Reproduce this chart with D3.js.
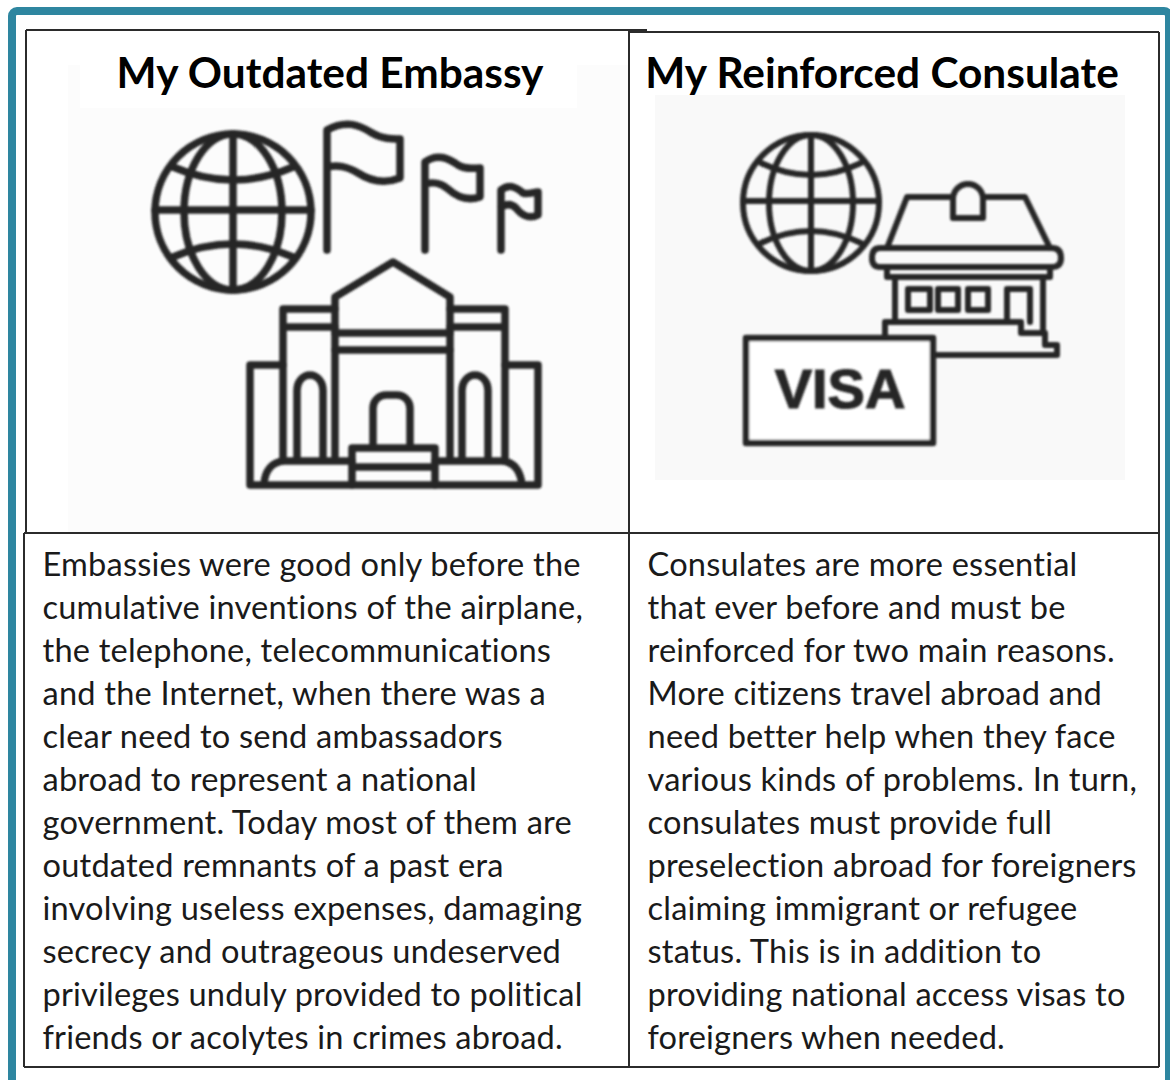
<!DOCTYPE html>
<html><head><meta charset="utf-8">
<script src="https://cdn.jsdelivr.net/npm/d3@7"></script>
<style>html,body{margin:0;padding:0;background:#fff;overflow:hidden}svg{display:block}
text{font-family:Lato,Carlito,sans-serif}</style></head><body><div id="c"></div>
<script>
const titles = ["My Outdated Embassy", "My Reinforced Consulate"];
const leftLines = ["Embassies were good only before the","cumulative inventions of the airplane,","the telephone, telecommunications","and the Internet, when there was a","clear need to send ambassadors","abroad to represent a national","government. Today most of them are","outdated remnants of a past era","involving useless expenses, damaging","secrecy and outrageous undeserved","privileges unduly provided to political","friends or acolytes in crimes abroad."];
const rightLines = ["Consulates are more essential","that ever before and must be","reinforced for two main reasons.","More citizens travel abroad and","need better help when they face","various kinds of problems. In turn,","consulates must provide full","preselection abroad for foreigners","claiming immigrant or refugee","status. This is in addition to","providing national access visas to","foreigners when needed."];
const W=1170,H=1080, ink="#262626", rule="#2b2b2b", teal="#2e86a0";
const svg=d3.select("#c").append("svg").attr("width",W).attr("height",H);
const defs=svg.append("defs");
defs.append("filter").attr("id","soft").append("feGaussianBlur").attr("stdDeviation",0.8);

// frame
svg.append("rect").attr("x",12).attr("y",11).attr("width",1157).attr("height",1300).attr("rx",5)
  .attr("fill","#fff").attr("stroke",teal).attr("stroke-width",8);

// picture backgrounds
const bg=[[68,65,560,467,"#fcfcfc"],[80,30,497,78,"#fff"],[655,95,470,385,"#f9f9f9"]];
svg.selectAll("rect.bg").data(bg).join("rect").attr("class","bg")
  .attr("x",d=>d[0]).attr("y",d=>d[1]).attr("width",d=>d[2]).attr("height",d=>d[3]).attr("fill",d=>d[4]);

// icons
const globe=(cx,cy,r,rx,a,b,c)=>[
 `M${cx+r},${cy}A${r},${r} 0 1 1 ${cx-r},${cy}A${r},${r} 0 1 1 ${cx+r},${cy}Z`,
 `M${cx},${cy-r}A${rx},${r} 0 0 0 ${cx},${cy+r}A${rx},${r} 0 0 0 ${cx},${cy-r}Z`,
 `M${cx},${cy-r}V${cy+r}M${cx-r},${cy-2}H${cx+r}`,
 `M${cx-a},${cy-b}Q${cx},${cy-c} ${cx+a},${cy-b}M${cx-a},${cy+b}Q${cx},${cy+c} ${cx+a},${cy+b}`
];
const embassy=[
 ...globe(233,212,78,49,60,45,19),
 "M327,250V130C345,120 358,124 372,133C382,139 392,139 400,139V178C385,184 372,182 358,173C346,166 338,165 327,167",
 "M425,250V162C437,153 448,158 458,165C466,170 474,168 480,168V197C468,201 458,198 448,189C440,182 433,182 425,184",
 "M501,250V190C510,183 517,188 523,193C528,195 533,192 538,192V215C530,219 522,216 516,208C511,203 506,204 501,207",
 "M335,458V297L393,262L450,297V458",
 "M335,333H450M335,350H450",
 "M335,309H283V458M335,327H283M450,309H505V458M450,327H505",
 "M283,365H250V485H538V365H505",
 "M297,458V390A13,15 0 0 1 323,390V458M462,458V390A13,15 0 0 1 488,390V458",
 "M373,447V408A13,13 0 0 1 386,395H397A13,13 0 0 1 410,408V447",
 "M352,485V448H435V485M352,467H435",
 "M264,484C265,470 272,462 284,461H352M435,461H502C514,462 520,470 522,484"
];
const consulate=[
 ...globe(811,203,68,42,50,40,16),
 "M887,248L907,197H952M983,197H1025L1050,248",
 "M953,218V199A15,15 0 0 1 983,199V218Z",
 "M880,248H1052Q1061,248 1061,258Q1061,267 1052,267H880Q872,267 872,258Q872,248 880,248Z",
 "M887,267V277H1050V267",
 "M895,277V322M1043,277V333",
 "M908,289H930V310H908ZM938,289H958V310H938ZM968,289H988V310H968Z",
 "M1007,320V289H1030V322",
 "M885,338V322H1021V333H1045V345H1057V355H933",
];
const group=svg.append("g").attr("filter","url(#soft)").attr("fill","none").attr("stroke",ink).attr("stroke-linejoin","round").attr("stroke-linecap","round");
group.append("g").attr("stroke-width",7.5).selectAll("path").data(embassy).join("path").attr("d",d=>d);
group.append("g").attr("stroke-width",6).selectAll("path").data(consulate).join("path").attr("d",d=>d);
group.append("rect").attr("x",746).attr("y",338).attr("width",187).attr("height",105).attr("fill","#fff").attr("stroke-width",6.5);
svg.append("text").attr("x",840).attr("y",408).attr("text-anchor","middle").attr("filter","url(#soft)")
  .style("font-family","'Liberation Sans'").style("font-weight",700).style("font-size","56px")
  .attr("fill",ink).attr("stroke",ink).attr("stroke-width",1.2).text("VISA");

// table rules
const rules=[[26,30,647,30],[629,32,1159,32],[26,30,26,533],[24,533,24,1067],[629,30,629,1067],[1159,32,1159,1067],[24,533,1159,533],[24,1067,1159,1067]];
svg.selectAll("line.rule").data(rules).join("line").attr("class","rule")
  .attr("x1",d=>d[0]).attr("y1",d=>d[1]).attr("x2",d=>d[2]).attr("y2",d=>d[3]).attr("stroke",rule).attr("stroke-width",2);

// text
const col=d3.scaleOrdinal().domain([0,1]).range([42.5,647.5]);
const titleCx=d3.scaleOrdinal().domain([0,1]).range([330,882]);
const lineY=d3.scaleLinear().domain([0,11]).range([576,1049]);
svg.selectAll("text.title").data(titles).join("text").attr("class","title")
  .attr("x",(d,i)=>titleCx(i)).attr("y",88).attr("text-anchor","middle")
  .style("font-weight",700).style("font-size","42.4px").attr("fill","#000").text(d=>d);
[leftLines,rightLines].forEach((lines,c)=>{
  svg.append("g").selectAll("text").data(lines).join("text")
    .attr("x",col(c)).attr("y",(d,i)=>lineY(i))
    .style("font-size","32.6px").style("letter-spacing","0.2px").attr("fill","#1a1a1a").text(d=>d);
});
</script></body></html>
